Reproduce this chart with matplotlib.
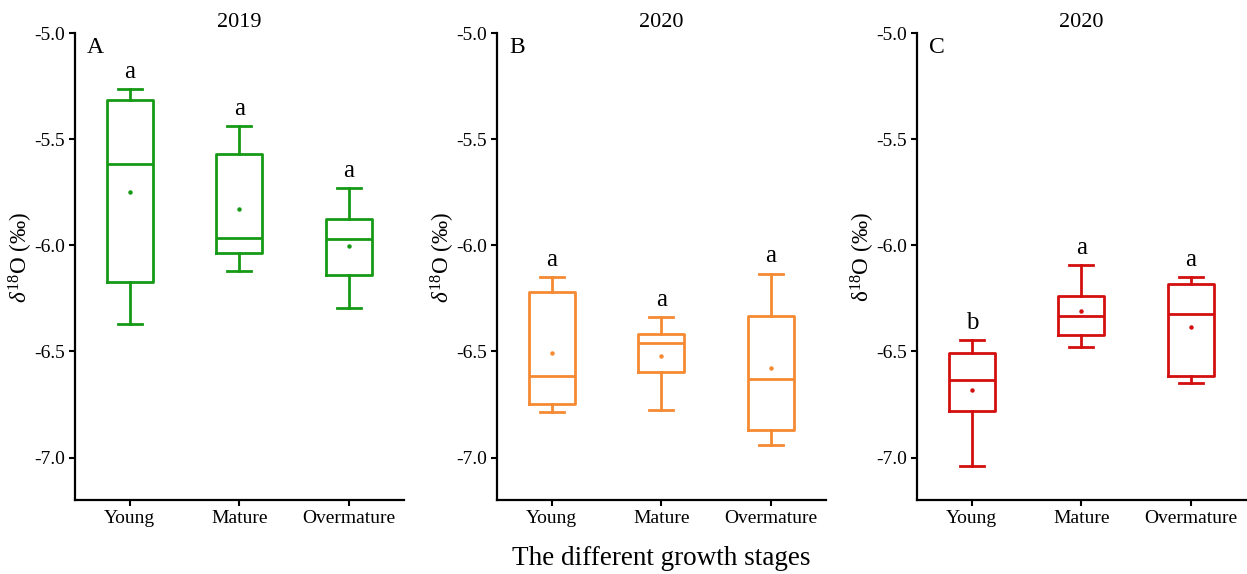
import numpy as np
import matplotlib
matplotlib.use('Agg')
import matplotlib.pyplot as plt

##################################### data
stages = ['Young', 'Mature', 'Overmature']
titles = ['2019', '2020', '2020']
panel_tags = ['A', 'B', 'C']
colors = ['#169A16', '#F58A33', '#D40F0F']

# per panel: lower whisker, Q1, median, Q3, upper whisker, mean  (one value per stage)
whislo_A = [-6.369, -6.123, -6.294]
q1_A = [-6.175, -6.038, -6.138]
med_A = [-5.617, -5.967, -5.972]
q3_A = [-5.316, -5.568, -5.877]
whishi_A = [-5.266, -5.439, -5.731]
mean_A = [-5.749, -5.829, -6.003]
letters_A = ['a', 'a', 'a']

whislo_B = [-6.785, -6.778, -6.939]
q1_B = [-6.750, -6.596, -6.871]
med_B = [-6.618, -6.461, -6.631]
q3_B = [-6.222, -6.418, -6.332]
whishi_B = [-6.151, -6.338, -6.134]
mean_B = [-6.506, -6.520, -6.580]
letters_B = ['a', 'a', 'a']

whislo_C = [-7.041, -6.480, -6.648]
q1_C = [-6.781, -6.421, -6.616]
med_C = [-6.637, -6.332, -6.322]
q3_C = [-6.509, -6.239, -6.184]
whishi_C = [-6.447, -6.094, -6.151]
mean_C = [-6.684, -6.311, -6.385]
letters_C = ['b', 'a', 'a']

panels = [
    (whislo_A, q1_A, med_A, q3_A, whishi_A, mean_A, letters_A),
    (whislo_B, q1_B, med_B, q3_B, whishi_B, mean_B, letters_B),
    (whislo_C, q1_C, med_C, q3_C, whishi_C, mean_C, letters_C),
]
ylabels = [r'$\delta^{18}$O (‰)', r'$\delta^{18}$O (‰)', r'δ$^{18}$O (‰)']
#####################################

plt.rcParams['font.family'] = ['Liberation Serif', 'DejaVu Serif']
plt.rcParams['mathtext.fontset'] = 'custom'
plt.rcParams['mathtext.rm'] = 'Liberation Serif'
plt.rcParams['mathtext.it'] = 'Liberation Serif:italic'

fig = plt.figure(figsize=(12.47, 5.74), dpi=100)
lefts = [0.0601, 0.3986, 0.7354]
width = 0.2635
bottom, height = 0.129, 0.8135

for i, (lo, q1, med, q3, hi, mn, letters) in enumerate(panels):
    ax = fig.add_axes([lefts[i], bottom, width, height])
    c = colors[i]
    stats = []
    for k in range(len(stages)):
        stats.append(dict(whislo=lo[k], q1=q1[k], med=med[k], q3=q3[k],
                          whishi=hi[k], mean=mn[k], fliers=[]))
    pos = np.arange(1, len(stages) + 1)
    ax.bxp(stats, positions=pos, widths=0.42, capwidths=0.22, showmeans=True,
           showfliers=False,
           boxprops=dict(color=c, linewidth=2),
           medianprops=dict(color=c, linewidth=2),
           whiskerprops=dict(color=c, linewidth=2),
           capprops=dict(color=c, linewidth=2),
           meanprops=dict(marker='o', markersize=2.2, markerfacecolor=c,
                          markeredgecolor=c))
    # significance letters
    for k in range(len(stages)):
        ax.text(pos[k], hi[k] + 0.03, letters[k], ha='center', va='bottom',
                fontsize=18)

    ax.set_xlim(0.5, 3.5)
    ax.set_ylim(-7.2, -5.0)
    ax.set_yticks([-7.0, -6.5, -6.0, -5.5, -5.0])
    ax.set_yticklabels(['-7.0', '-6.5', '-6.0', '-5.5', '-5.0'])
    ax.set_xticks(pos)
    ax.set_xticklabels(stages)
    ax.tick_params(labelsize=14, width=1.5, length=4, direction='out', pad=3)
    for side in ['top', 'right']:
        ax.spines[side].set_visible(False)
    for side in ['left', 'bottom']:
        ax.spines[side].set_linewidth(1.6)

    ax.set_title(titles[i], fontsize=16, pad=4)
    ax.text(0.037, 0.968, panel_tags[i], transform=ax.transAxes,
            fontsize=17, ha='left', va='center')
    ax.set_ylabel(ylabels[i], fontsize=16.7)
    ax.yaxis.set_label_coords(-0.122, 0.52)

    if i == 1:
        ax.set_xlabel('The different growth stages', fontsize=19.5, labelpad=14)

fig.savefig('out.png', dpi=100, facecolor='white')
